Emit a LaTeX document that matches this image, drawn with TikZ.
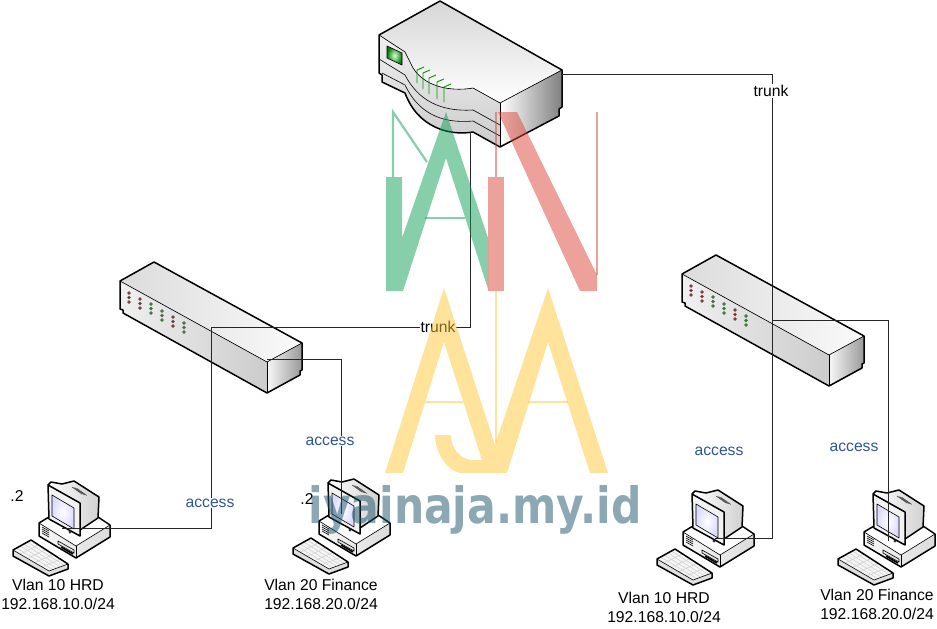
\documentclass[tikz,border=0pt]{standalone}
\usepackage{fontspec}
\setmainfont{Liberation Sans}
\newfontfamily\markfont{DejaVu Sans}
\usetikzlibrary{positioning, calc}

\definecolor{labelblue}{HTML}{2F5597}
\definecolor{markgreen}{HTML}{0F9D58}
\definecolor{markred}{HTML}{DB4437}
\definecolor{markyellow}{HTML}{FFC737}
\definecolor{markblue}{HTML}{195169}

\tikzset{
    thickedge/.style={line width=1.5pt, line join=round},
    thinedge/.style={line width=0.6pt, line join=round},
    switchicon/.pic={
        \fill[left color=black!14, right color=black!2] (0,0) -- (34,-19) -- (182,62) -- (147,81) -- cycle;
        \fill[left color=black!6, right color=black!20] (0,0) -- (147,81) -- (147,112) -- (3,32) -- (3,29) -- (0,28) -- cycle;
        \fill[left color=black!3, right color=black!40] (147,81) -- (182,62) -- (182,89) -- (180,90) -- (180,94) -- (147,112) -- cycle;
        \draw[thinedge] (0,0) -- (147,81) -- (182,62);
        \draw[thinedge] (147,81) -- (147,112);
        \draw[thickedge] (0,0) -- (34,-19) -- (182,62) -- (182,89) -- (180,90) -- (180,94) -- (147,112) -- (3,32) -- (3,29) -- (0,28) -- cycle;
        \foreach \x/\y/\c in {9/12/red!70!black, 20/18/red!70!black, 31/23/green!60!black, 42/30/green!60!black, 53/36/red!70!black, 64/42/green!60!black} {
            \foreach \d in {0,4.5,9} {
                \draw[line width=0.4pt, fill=\c, draw=black!60] (\x,\y+\d) circle (1.5);
            }
        }
        \coordinate (-north) at (34,-19);
    },
    pcicon/.pic={
        % base
        \fill[left color=black!3, right color=black!14] (33,62) -- (70,85) -- (104,64) -- (104,76) -- (70,97) -- (33,75) -- cycle;
        \fill[white] (33,62) -- (43,56) -- (92,56) -- (104,64) -- (70,85) -- cycle;
        \draw[thickedge] (33,62) -- (43,56) -- (92,56) -- (104,64) -- (104,76) -- (70,97) -- (33,75) -- cycle;
        \draw[thinedge] (33,62) -- (70,85) -- (104,64);
        \draw[thinedge] (70,85) -- (70,97);
        \foreach \v in {0,2,4,6} {
            \draw[thinedge] (36,66+\v) -- (43,70+\v);
        }
        \draw[thinedge, fill=black!10] (52,80) -- (68,89) -- (68,92) -- (52,83) -- cycle;
        \draw[line width=1.6pt] (55,86) -- (67,93);
        % monitor
        \fill[left color=white, right color=black!18] (42,24) -- (45,21) -- (56,23) -- (68,20) -- (93,36) -- (92,57) -- (74,69) -- (74,42) -- cycle;
        \fill[black!5] (42,24) -- (74,42) -- (74,75) -- (43,58) -- cycle;
        \draw[thickedge] (42,24) -- (45,21) -- (56,23) -- (68,20) -- (93,36) -- (92,57) -- (74,69);
        \draw[thickedge] (42,24) -- (74,42) -- (74,75) -- (43,58) -- cycle;
        \foreach \v in {0,1.6,3.2,4.8} {
            \draw[thinedge, black!70] (66+\v,26+0.3*\v) -- (76+\v,33+0.3*\v);
        }
        \draw[thinedge, inner color=white, outer color=blue!14] (46,34) -- (68,47) -- (68,68) -- (46,55) -- cycle;
        \draw[thinedge, fill=black!30] (64,71) circle (1.2);
        % keyboard
        \fill[black!12] (7,89) -- (43,110) -- (62,103) -- (62,108) -- (43,115) -- (7,95) -- cycle;
        \fill[black!4] (7,89) -- (25,79) -- (62,103) -- (43,110) -- cycle;
        \foreach \v in {0.2,0.4,0.6,0.8} {
            \draw[thinedge, black!18] ($(7,89)!\v!(43,110)$) -- ($(25,79)!\v!(62,103)$);
            \draw[thinedge, black!18] ($(7,89)!\v!(25,79)$) -- ($(43,110)!\v!(62,103)$);
        }
        \draw[thinedge] (7,89) -- (43,110) -- (62,103);
        \draw[thickedge] (7,89) -- (25,79) -- (62,103) -- (62,108) -- (43,115) -- (7,95) -- cycle;
        \coordinate (-screen) at (57,67);
    },
    routericon/.pic={
        \fill[top color=black!16, bottom color=white] (379,35) -- (440,1) -- (562,70) -- (500,103) -- (473,88) .. controls (457,91) and (427,90) .. (413,68) -- (405,52) -- cycle;
        \fill[top color=black!6, bottom color=black!20] (379,35) -- (405,52) -- (413,68) .. controls (427,90) and (457,91) .. (473,88) -- (500,103) -- (500,147) -- (473,132) .. controls (450,136) and (418,128) .. (405,93) -- (382,82) -- (382,75) -- (379,73) -- cycle;
        \fill[left color=white, right color=black!50] (500,103) -- (562,70) -- (562,107) -- (559,109) -- (559,116) -- (500,147) -- cycle;
        \draw[thinedge] (379,35) -- (405,52) -- (413,68) .. controls (427,90) and (457,91) .. (473,88) -- (500,103) -- (562,70);
        \draw[thinedge] (500,103) -- (500,147);
        \draw[thinedge] (379,59) -- (405,75) .. controls (418,100) and (440,112) .. (473,110) -- (500,125);
        \draw[thinedge] (382,73) -- (405,85) .. controls (418,112) and (440,124) .. (473,121) -- (500,136);
        \draw[thickedge] (379,35) -- (440,1) -- (562,70) -- (562,107) -- (559,109) -- (559,116) -- (500,147) -- (473,132) .. controls (450,136) and (418,128) .. (405,93) -- (382,82) -- (382,75) -- (379,73) -- cycle;
        \draw[thinedge, inner color=green!15, outer color=green!50!black] (387,46) -- (402,53) -- (402,65) -- (387,58) -- cycle;
        \foreach \x/\y/\e in {417/70/83, 423/73/89, 429/78/94, 437/82/99, 444/87/102} {
            \draw[line width=0.9pt, green!60!black] (\x,\e) -- (\x,\y) -- (\x+7,\y-3);
        }
        \coordinate (-east) at (562,74);
        \coordinate (-south) at (470,132);
    }
}

\begin{document}
\begin{tikzpicture}[
    x=1pt, y=-1pt,
    link/.style={line width=0.8pt, black!85},
    tag/.style={font=\fontsize{15.7}{19}\selectfont, align=center, inner sep=1pt},
    access/.style={tag, fill=white, text=labelblue},
    trunk/.style={tag, fill=white},
    markfill/.style={opacity=0.5},
    markline/.style={opacity=0.5, line width=2.2pt}
]
\useasboundingbox (0,0) rectangle (937,629);

% Devices
\pic (router) at (0,0) {routericon};
\pic (swA) at (120,281) {switchicon};
\pic (swB) at (682,274) {switchicon};
\pic (pcA) at (6,461) {pcicon};
\pic (pcB) at (286,459) {pcicon};
\pic (pcC) at (650,470) {pcicon};
\pic (pcD) at (831,470) {pcicon};

% Bends
\coordinate (bendA) at (470,327);
\coordinate (bendB) at (211,327);
\coordinate (bendC) at (772,74);
\coordinate (portA) at (267,359);
\coordinate (portB) at (772,320);
\coordinate (endB) at (341,514);
\coordinate (endD) at (888,541);
\coordinate (endC) at (715,538);
\coordinate (endA) at (62,528);

% Links
\draw[link] (router-south) -- (bendA) -- (bendB) |- (endA);
\draw[link] (router-east) -- (bendC) |- (endC);
\draw[link] (portA) -| (endB);
\draw[link] (portB) -| (endD);

% Labels
\node[trunk] (trunkA) at (438,327) {trunk};
\node[trunk] (trunkB) at (771,91) {trunk};
\node[access] (accessA) at (210,503) {access};
\node[access] (accessB) at (330,441) {access};
\node[access] (accessC) at (719,451) {access};
\node[access] (accessD) at (854,447) {access};
\node[tag] (ipA) at (58,594) {Vlan 10 HRD\\192.168.10.0/24};
\node[tag] (ipB) at (321,594) {Vlan 20 Finance\\192.168.20.0/24};
\node[tag] (ipC) at (664,607) {Vlan 10 HRD\\192.168.10.0/24};
\node[tag] (ipD) at (877,604) {Vlan 20 Finance\\192.168.20.0/24};
\node[tag] (dotA) at (17,496) {.2};
\node[tag] (dotB) at (307,499) {.2};

% Logo
\fill[markfill, markgreen] (386,177) -- (402,177) -- (402,238) -- (446,112) -- (488,238) -- (488,289) -- (446,158) -- (403,291) -- (386,291) -- cycle;
\draw[markline, markgreen] (393,177) -- (393,112) -- (427,162);
\draw[markline, markgreen] (425,218) -- (465,218);
\fill[markfill, markred] (488,177) -- (504,177) -- (504,291) -- (488,291) -- cycle;
\fill[markfill, markred] (498,112) -- (517,112) -- (597,275) -- (597,291) -- (580,291) -- cycle;
\draw[markline, markred] (496,177) -- (496,112);
\draw[markline, markred] (597,275) -- (597,112);
\fill[markfill, markyellow] (385,473) -- (444,288) -- (495,445) -- (548,288) -- (608,473) -- (590,473) -- (548,342) -- (507,473) -- (463,473) .. controls (447,473) and (435,452) .. (435,435) -- (451,435) .. controls (451,450) and (462,460) .. (473,460) -- (482,460) -- (444,342) -- (403,473) -- cycle;
\draw[markline, markyellow] (496,291) -- (496,443);
\draw[markline, markyellow] (425,402) -- (463,402);
\draw[markline, markyellow] (528,402) -- (568,402);
\node[anchor=base, inner sep=0pt, text=markblue, text opacity=0.5, font=\markfont\bfseries\fontsize{50}{60}\selectfont] (logotext) at (475,523) {\scalebox{0.85}[1]{iyainaja.my.id}};

\end{tikzpicture}
\end{document}
